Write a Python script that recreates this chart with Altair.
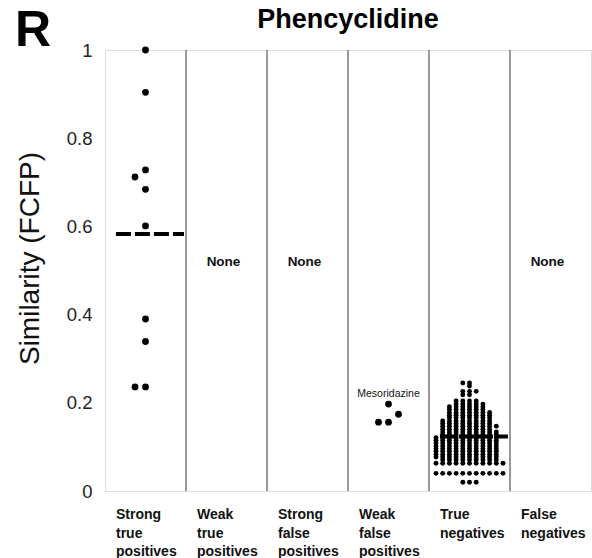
import altair as alt
import pandas as pd

# ---- data -------------------------------------------------------------
categories = [
    "Strong true positives",
    "Weak true positives",
    "Strong false positives",
    "Weak false positives",
    "True negatives",
    "False negatives",
]

strong_true_positives = [1.0, 0.904, 0.728, 0.712, 0.684, 0.601, 0.390, 0.339, 0.236, 0.236]
weak_false_positives = [0.197, 0.174, 0.156, 0.156]

# true negatives: similarity level and number of compounds at that level
true_negative_levels = [0.245, 0.238, 0.226, 0.218, 0.204, 0.197, 0.191, 0.185, 0.178, 0.172,
                        0.166, 0.159, 0.153, 0.147, 0.140, 0.134, 0.128, 0.121, 0.115, 0.109,
                        0.102, 0.096, 0.090, 0.083, 0.077, 0.071, 0.063, 0.040, 0.020]
true_negative_counts = [2, 1, 3, 2, 4, 5, 6, 6, 7, 7,
                        7, 8, 8, 9, 8, 9, 9, 10, 10, 10,
                        10, 10, 10, 10, 10, 9, 11, 11, 3]

empty_groups = ["Weak true positives", "Strong false positives", "False negatives"]
annotated_group = "Weak false positives"
annotation = "Mesoridazine"
drug_name = "Phencyclidine"
panel_letter = "R"
y_title = "Similarity (FCFP)"
y_ticks = [0, 0.2, 0.4, 0.6, 0.8, 1]

# ---- layout -----------------------------------------------------------
W, H = 486, 441
COL_PX = W / len(categories)
FONT = "Liberation Sans"


def swarm_slots(values, gap):
    """Greedy dot-plot layout: each value takes the nearest free horizontal slot."""
    placed = {}
    result = [0] * len(values)
    for i in sorted(range(len(values)), key=lambda j: values[j]):
        v = values[i]
        k, chosen = 0, None
        while chosen is None:
            for s in ([0] if k == 0 else [-k, k]):
                if all(abs(v - u) >= gap for u in placed.get(s, [])):
                    chosen = s
                    break
            k += 1
        placed.setdefault(chosen, []).append(v)
        result[i] = chosen
    return result


tn_values = []
for lvl, n in zip(true_negative_levels, true_negative_counts):
    tn_values.extend([lvl] * n)

# group name, values, collision gap, slot spacing (px), dot size
groups = [
    ("Strong true positives", strong_true_positives, 0.03, 10.5, 46),
    ("Weak false positives", weak_false_positives, 0.03, 10.0, 46),
    ("True negatives", tn_values, 0.005, 6.7, 24),
]

rows = []
for name, vals, gap, step, dot in groups:
    idx = categories.index(name)
    for v, s in zip(vals, swarm_slots(vals, gap)):
        rows.append({"group": name, "idx": idx, "similarity": v, "dot": dot,
                     "xpos": idx + 0.5 + s * step / COL_PX})
points_df = pd.DataFrame(rows)

cat_df = pd.DataFrame({"label": categories, "idx": list(range(len(categories)))})
sep_df = pd.DataFrame({"b": list(range(1, len(categories)))})
none_df = pd.DataFrame({"label": ["None"] * len(empty_groups),
                        "idx": [categories.index(g) for g in empty_groups]})
note_df = pd.DataFrame({"label": [annotation], "idx": [categories.index(annotated_group)]})

x_scale = alt.Scale(domain=[0, len(categories)], nice=False, zero=False)
y_scale = alt.Scale(domain=[0, 1], nice=False)
y_axis = alt.Axis(
    title=y_title, values=y_ticks, format="~g", grid=False, ticks=False, domain=False,
    labelFontSize=18.5, labelColor="#222", labelPadding=13, labelFont=FONT,
    titleFont=FONT, titleFontSize=28, titleFontWeight="normal", titleColor="#111",
    titleAngle=270, titleX=-75, titleY=208, titleAlign="center", titleBaseline="middle",
)

points = alt.Chart(points_df).mark_circle(color="black", opacity=1).encode(
    x=alt.X("xpos:Q", scale=x_scale, axis=None),
    y=alt.Y("similarity:Q", scale=y_scale, axis=y_axis),
    size=alt.Size("dot:Q", scale=None, legend=None),
)

means = alt.Chart(points_df).transform_aggregate(
    mean_sim="mean(similarity)", n="count()", groupby=["idx"]
).transform_filter("datum.n >= 5").transform_calculate(
    x1="datum.idx + 0.135", x2="datum.idx + 0.975"
).mark_rule(color="black", strokeWidth=4, strokeDash=[15, 4]).encode(
    x=alt.X("x1:Q", scale=x_scale, axis=None),
    x2="x2:Q",
    y=alt.Y("mean_sim:Q", scale=y_scale, axis=y_axis),
)

separators = alt.Chart(sep_df).mark_rule(color="#555", strokeWidth=1.2).encode(
    x=alt.X("b:Q", scale=x_scale, axis=None),
    y=alt.value(0),
    y2=alt.value(H),
)

cat_labels = alt.Chart(cat_df).mark_text(
    align="left", baseline="alphabetic", dx=11, lineBreak=" ", lineHeight=18.5,
    font=FONT, fontSize=14, fontWeight="bold", color="#111",
).encode(
    x=alt.X("idx:Q", scale=x_scale, axis=None),
    y=alt.value(H + 28),
    text="label:N",
)

none_labels = alt.Chart(none_df).transform_calculate(
    xc="datum.idx + 0.5"
).mark_text(
    align="center", baseline="middle", dx=-3, font=FONT, fontSize=13.5,
    fontWeight="bold", color="#111",
).encode(
    x=alt.X("xc:Q", scale=x_scale, axis=None),
    y=alt.datum(0.519, scale=y_scale, axis=y_axis),
    text="label:N",
)

note = alt.Chart(note_df).transform_calculate(
    xc="datum.idx + 0.5"
).mark_text(
    align="center", baseline="middle", font=FONT, fontSize=10.5, color="#111",
).encode(
    x=alt.X("xc:Q", scale=x_scale, axis=None),
    y=alt.datum(0.221, scale=y_scale, axis=y_axis),
    text="label:N",
)

title = alt.Chart(pd.DataFrame({"t": [drug_name]})).mark_text(
    align="center", baseline="alphabetic", font=FONT, fontSize=27,
    fontWeight="bold", color="#000",
).encode(x=alt.value(W / 2), y=alt.value(-22), text="t:N")

letter = alt.Chart(pd.DataFrame({"t": [panel_letter]})).mark_text(
    align="left", baseline="alphabetic", font=FONT, fontSize=50,
    fontWeight="bold", color="#000",
).encode(x=alt.value(-90), y=alt.value(-4), text="t:N")

chart = alt.layer(
    separators, points, means, cat_labels, none_labels, note, title, letter
).properties(
    width=W, height=H,
    autosize=alt.AutoSizeParams(type="none"),
    padding={"left": 105, "top": 50, "right": 1, "bottom": 67},
).configure_view(stroke="#555", strokeWidth=1.2).configure(font=FONT)

chart.save("out.html", embed_options={"renderer": "svg", "actions": False})
